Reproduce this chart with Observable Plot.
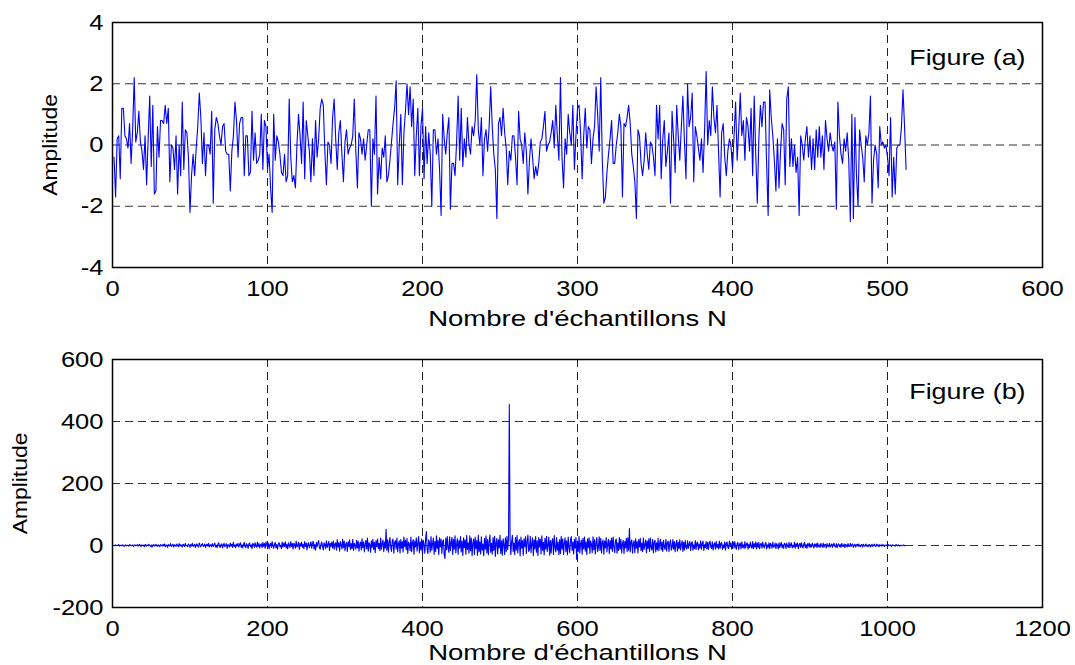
<!DOCTYPE html>
<html>
<head>
<meta charset="utf-8">
<script src="https://cdn.jsdelivr.net/npm/d3@7"></script>
<script src="https://cdn.jsdelivr.net/npm/@observablehq/plot@0.6"></script>
<style>
  html, body { margin: 0; padding: 0; background: #fff; }
  #chart { position: relative; width: 1075px; height: 665px; background: #fff; overflow: hidden; }
  #chart svg { position: absolute; left: 0; }
  #chart text { font-family: "Liberation Sans", Arial, Helvetica, sans-serif; fill: #000; }
</style>
</head>
<body>
<div id="chart"></div>
<script>
// ---- Figure (a): 512 noise samples ----
const signalA = [
  -0.4,-1.7,0.2,0.3,-1.1,1.2,1.2,0.3,0.2,-0.1,0.7,-0.6,0.5,2.2,0.1,0.4,1.1,0.1,-0.2,-0.8,0.3,-1.3,0.2,1.6,-0.7,1.3,-1.6,-1.5,0.6,-0.4,0.8,0.8,
  0.7,1.3,0.7,1.2,-1.2,0.0,-0.1,-0.8,0.3,-1.6,0.0,-1.0,1.4,-0.8,0.5,0.4,-0.4,-2.2,-1.0,-0.3,-1.0,-0.1,0.6,1.7,0.9,-0.6,0.4,-1.0,0.0,0.0,-0.3,1.1,
  -1.9,0.5,0.9,0.7,0.3,0.0,0.6,0.7,-0.2,-0.3,-0.3,-1.5,-0.2,0.3,1.4,0.8,-0.4,0.7,0.9,0.9,-1.0,0.3,0.3,-1.0,-0.9,1.1,-0.5,0.4,-0.6,-0.5,-0.3,1.0,
  -0.8,0.8,0.6,-0.8,-0.3,-1.4,-2.2,1.0,-0.5,0.3,0.1,-0.3,-0.9,-1.0,-0.3,-1.2,-1.0,1.5,-0.4,-1.2,-1.0,-1.4,0.0,1.0,0.3,-0.6,1.4,-1.1,0.8,0.3,-0.2,-1.2,
  0.2,-1.0,0.8,-0.4,0.2,1.2,1.5,1.3,-0.2,-1.3,0.1,0.0,-0.6,0.9,1.5,0.2,-0.8,0.4,0.8,-0.3,-1.2,0.1,0.5,-0.3,-0.1,0.0,0.3,1.5,-0.2,-1.4,0.4,0.2,
  -0.3,0.2,-0.5,0.0,0.5,0.5,-2.0,0.2,-0.3,1.6,-1.6,-0.4,-1.1,-0.1,-0.4,0.3,-1.2,-1.0,-0.5,0.1,0.7,1.2,2.1,-1.3,0.0,1.0,-1.3,0.4,1.1,2.0,1.0,1.9,
  0.6,1.5,-1.0,0.3,1.2,-1.0,0.6,1.2,-1.1,0.6,-0.6,0.4,-0.3,-2.0,0.5,0.5,-0.3,0.2,-0.8,-2.3,1.0,0.2,-0.3,0.4,0.9,-2.1,-0.6,-0.6,-1.0,0.1,1.6,-0.5,
  1.2,-0.7,0.2,-0.4,0.9,0.0,-0.3,0.6,0.3,0.8,2.3,0.5,0.0,0.9,-1.0,0.2,0.5,-0.2,0.6,1.9,0.6,-0.3,-0.8,-2.4,0.7,0.9,0.3,1.2,0.4,-0.1,-1.3,-0.2,
  -0.5,0.3,0.3,-0.4,-1.3,1.1,0.2,0.0,-0.6,0.4,-0.2,-1.6,-0.5,0.2,-0.4,-1.1,-0.7,-1.0,-0.6,0.1,0.2,0.6,1.1,-0.2,0.0,0.1,0.4,0.8,-0.1,1.3,0.3,-0.5,
  2.2,-0.4,-1.4,0.2,-0.3,1.0,0.4,0.0,1.3,-0.8,0.3,1.2,1.3,0.4,-1.1,0.3,1.2,-0.1,0.6,0.5,-0.6,0.2,0.6,1.9,1.0,-0.2,2.2,-0.5,-1.9,-1.7,-0.9,-0.3,
  0.2,0.8,-0.6,-0.6,0.0,0.4,1.0,0.6,-1.7,0.7,0.6,0.9,1.3,0.7,-0.3,-0.7,-1.2,-2.4,0.5,0.3,-0.6,-1.0,-0.5,0.4,-0.3,-0.8,0.1,0.0,-0.4,-1.0,1.3,0.2,
  1.3,-1.1,0.2,0.8,-0.7,-0.2,0.4,-1.9,1.1,0.2,-0.9,1.3,0.3,-0.5,0.6,1.6,0.1,-1.1,2.0,0.6,0.9,1.7,-1.2,0.6,0.3,-0.1,-0.5,0.2,-0.9,0.5,2.4,0.0,
  0.8,0.3,1.9,0.9,0.4,1.3,-0.2,-1.7,0.4,0.7,-0.4,-1.0,-0.2,0.2,0.0,-0.8,0.3,1.4,-0.5,0.5,1.7,0.3,0.8,-0.5,0.9,0.6,-0.2,1.2,-1.0,1.6,-0.3,-1.9,
  0.2,1.3,0.6,1.4,1.4,-0.6,-2.3,1.8,0.9,0.3,-0.5,-1.5,0.2,-1.4,-0.2,0.7,0.5,-1.3,1.5,1.9,-0.7,0.2,-0.7,0.0,-0.9,-0.4,-2.3,0.3,0.0,-0.5,0.2,0.6,
  -0.4,0.3,-0.8,0.2,-0.8,0.5,-0.4,0.6,-0.4,0.3,-0.8,0.8,0.2,-0.2,0.4,0.0,-0.2,0.1,-2.1,1.4,0.3,-0.3,-0.6,0.2,-0.2,0.4,-0.5,-2.5,1.0,-2.4,0.9,-1.0,
  -2.0,0.5,0.0,-0.4,-1.2,0.3,0.0,0.4,1.6,-1.9,-0.5,0.0,-0.3,-1.4,0.6,0.0,0.1,-0.1,0.0,-0.4,-1.0,0.9,-1.7,-0.4,-1.6,-0.1,0.0,0.0,0.6,1.8,0.6,-0.8
];

// ---- Figure (b): 1023 correlation samples ----
const signalB = [
  0,1,-1,2,0,-1,1,3,-2,0,1,-1,2,1,-3,0,2,-1,1,0,-2,3,1,-1,0,2,-3,1,2,-1,0,3,
  -2,1,4,-1,-3,2,0,1,-4,3,2,-2,1,-1,4,0,-3,2,-5,1,3,-2,0,4,-1,-3,2,1,-4,3,0,-2,
  3,-1,5,-4,2,0,-6,3,1,-2,6,-3,0,4,-5,2,1,-3,5,0,-4,6,-2,3,-1,-5,4,2,-3,7,-1,0,
  -4,5,2,-6,3,-1,7,-3,0,4,-7,2,5,-2,-5,8,1,-4,3,6,-3,-1,5,-6,2,4,-2,7,-5,1,3,-4,
  6,-3,2,8,-5,1,-7,4,9,-2,-6,3,5,-8,2,7,-4,0,6,-9,3,1,-5,8,-2,4,-6,10,-3,2,-7,5,
  -1,7,-5,3,9,-6,2,-8,4,10,-3,-7,6,1,-9,5,8,-4,2,-10,7,3,-6,9,-2,-5,11,-4,6,-8,2,5,
  -7,10,-3,6,-9,12,1,-5,8,-11,4,7,-6,13,-2,-9,5,10,-8,3,-12,6,9,-4,1,-10,11,-5,7,-3,12,-8,
  4,-11,9,2,-7,13,-4,6,-12,8,3,-9,14,-5,1,10,-13,7,-2,11,-6,4,-10,13,-3,8,-14,5,9,-7,2,12,
  -9,6,14,-11,3,-15,10,-4,8,16,-7,-12,5,11,-2,-14,9,4,-10,15,-6,2,13,-16,7,-3,11,-8,14,-12,5,9,
  -15,19,-5,9,-18,13,2,-11,20,-7,14,-17,4,10,-19,12,-3,18,-13,6,-10,20,-16,7,1,-12,17,-8,14,-18,5,11,
  -14,22,-7,12,-21,4,17,-11,24,-18,9,3,-22,15,-6,20,-13,10,-23,16,-4,21,-10,7,-17,24,-12,5,18,-20,11,-9,
  52,-15,18,-22,10,26,-6,-19,14,21,-25,8,16,-11,24,-20,5,15,-24,19,-9,13,-21,27,-4,17,-14,23,-26,11,4,-17,
  27,-20,10,19,-28,14,-5,25,-18,8,29,-23,12,-14,22,-27,17,3,-25,21,45,-13,-26,18,9,-22,29,-15,6,24,-28,13,
  -19,31,-10,16,-29,25,-5,21,-26,12,18,-30,-42,24,-14,29,-8,-22,28,-17,10,26,-29,20,-12,31,-24,4,22,-28,16,-9,
  29,-21,14,-32,25,-7,18,-28,33,-13,9,-25,31,-17,24,-33,8,21,-29,27,-10,16,-31,34,-20,12,-27,28,-15,5,-33,23,
  -12,31,-24,19,-30,13,34,-22,7,-28,26,-16,30,-35,11,23,-27,18,-8,33,-26,15,-31,22,5,-29,25,-19,30,-13,20,
  455,
  22,-30,13,33,-20,8,-29,26,-15,32,-24,11,19,-34,27,-9,16,-31,22,-4,29,-26,12,34,-19,-13,30,-23,7,25,-33,18,
  -11,29,-22,15,-32,26,-5,21,-27,31,-16,10,-30,23,-12,30,-19,4,27,-31,16,-25,14,22,-29,32,-8,-21,26,-15,11,-30,
  19,-26,30,-12,22,-29,8,25,-20,15,-30,27,-5,-23,18,29,-16,11,-27,20,-9,26,-45,14,-19,30,-24,7,17,-28,23,-11,
  27,-18,12,-29,22,-7,25,-26,15,4,-23,28,-14,19,-27,10,26,-20,-5,28,-16,23,-24,11,18,-28,14,-8,26,-21,7,20,
  -26,16,-11,24,-19,27,-4,-23,15,21,-25,9,-16,26,-12,20,-24,5,17,-26,13,-8,23,-20,25,-15,55,-21,11,18,-25,8,
  15,-23,22,-9,13,-24,19,-5,23,-17,8,-20,24,-13,4,18,-23,14,-10,22,-19,24,-6,-15,20,-24,11,17,-21,9,-14,23,
  -17,7,20,-14,11,-19,17,-4,-13,20,-18,10,14,-20,6,18,-15,-7,19,-12,13,-20,5,17,-18,11,-10,19,-14,4,15,-19,
  10,-14,16,-6,-11,15,-9,4,13,-16,7,12,-15,2,-10,16,-13,8,11,-14,5,-9,15,-12,6,14,-16,3,-7,13,-11,10,
  -13,8,14,-5,-10,12,-14,3,9,-12,13,-7,4,-11,14,-9,6,10,-13,2,-8,12,-14,7,11,-6,-10,14,-4,9,-12,5,
  11,-9,13,-4,-12,7,10,-13,3,8,-11,12,-6,2,-10,13,-8,5,9,-12,4,-7,11,-3,-9,13,-10,6,-5,12,-11,8,
  -6,10,-11,4,7,-9,11,-3,-8,5,10,-11,2,-6,9,-10,7,3,-9,11,-5,-4,8,-10,6,1,-11,9,-7,4,10,-8,
  3,-9,7,5,-10,8,-2,-6,10,-7,4,9,-8,1,-5,10,-9,6,-3,8,-10,2,7,-6,9,-4,-8,5,10,-7,3,-9,
  6,-2,8,-7,4,-5,7,1,-8,5,-3,6,-7,8,-4,2,-6,7,-1,-5,8,-6,3,4,-8,6,-2,-4,7,-5,1,5,
  -6,4,7,-3,-5,6,-7,2,5,-4,3,-6,7,-2,-3,5,-7,4,1,-5,6,-3,-2,7,-4,3,5,-6,0,4,-5,2,
  4,-3,5,-1,-4,2,3,-5,4,0,-3,5,-2,1,-4,3,2,-5,1,4,-3,0,5,-2,-3,4,-1,2,-4,3,0,-2,
  3,-1,2,-3,1,0,2,-2,3,-1,0,2,-3,1,2,-1,0,-2,3,1,-1,2,0,-2,1,1,-1,0,2,-1,0
];

// ---- Axis ticks and texts ----
const xTicksA = [0, 100, 200, 300, 400, 500, 600];
const yTicksA = [-4, -2, 0, 2, 4];
const xTicksB = [0, 200, 400, 600, 800, 1000, 1200];
const yTicksB = [-200, 0, 200, 400, 600];
const xLabel = "Nombre d'échantillons N";
const yLabel = "Amplitude";
const panelTitles = ["Figure (a)", "Figure (b)"];

const rowsA = signalA.map((v, i) => ({n: i + 1, v}));
const rowsB = signalB.map((v, i) => ({n: i + 1, v}));

const FONT = "Liberation Sans, Arial, Helvetica, sans-serif";

function panel({rows, xTicks, yTicks, title, height, mt, mb, yLabelDx, titleDy, xLabelDy}) {
  return Plot.plot({
    width: 1075,
    height,
    marginTop: mt,
    marginBottom: mb,
    marginLeft: 112,
    marginRight: 33,
    style: {fontFamily: FONT, fontSize: "22px", color: "#000", background: "#fff", overflow: "visible"},
    x: {domain: [xTicks[0], xTicks[xTicks.length - 1]], label: null},
    y: {domain: [yTicks[0], yTicks[yTicks.length - 1]], label: null},
    marks: [
      Plot.gridY(yTicks, {stroke: "#333", strokeOpacity: 1, strokeWidth: 1, strokeDasharray: "8,5"}),
      Plot.gridX(xTicks, {stroke: "#222", strokeOpacity: 1, strokeWidth: 1, strokeDasharray: "8,5"}),
      Plot.line(rows, {x: "n", y: "v", stroke: "#0000ff", strokeWidth: 1.1}),
      Plot.frame({stroke: "#000", strokeWidth: 1.5}),
      Plot.axisX(xTicks, {tickSize: 0, tickPadding: 13, tickFormat: d => String(d), label: null, fontSize: 22}),
      Plot.axisY(yTicks, {tickSize: 0, tickPadding: 9, tickFormat: d => String(d), label: null, fontSize: 22}),
      Plot.text([xLabel], {text: d => d, frameAnchor: "bottom", textAnchor: "middle", dy: xLabelDy, fontSize: 22, fill: "#000"}),
      Plot.text([yLabel], {text: d => d, frameAnchor: "left", textAnchor: "middle", lineAnchor: "middle", dx: yLabelDx, rotate: -90, fontSize: 21, fill: "#000"}),
      Plot.text([title], {text: d => d, frameAnchor: "top-right", textAnchor: "end", dx: -17, dy: titleDy, fontSize: 22, fill: "#000"})
    ]
  });
}

// Horizontal stretch of the glyphs, as in the reference rendering
function stretch(svg) {
  svg.querySelectorAll("text").forEach(t => {
    const s = t.textContent.trim();
    let k = 1.16;
    if (s.startsWith("Nombre")) k = 1.25;
    else if (s === "Amplitude") k = 1.09;
    else if (s.startsWith("Figure")) k = 1.22;
    let tr = t.getAttribute("transform");
    if (!tr) {
      const x = t.getAttribute("x") || 0, y = t.getAttribute("y") || 0;
      t.removeAttribute("x"); t.removeAttribute("y");
      tr = `translate(${x},${y})`;
    }
    t.setAttribute("transform", tr + ` scale(${k},1)`);
  });
}

const chart = document.getElementById("chart");
const svgA = panel({rows: rowsA, xTicks: xTicksA, yTicks: yTicksA, title: panelTitles[0], height: 335, mt: 22, mb: 68, yLabelDx: -62, titleDy: 26.5, xLabelDy: 58});
const svgB = panel({rows: rowsB, xTicks: xTicksB, yTicks: yTicksB, title: panelTitles[1], height: 330, mt: 24, mb: 58, yLabelDx: -92, titleDy: 23.5, xLabelDy: 52});
svgA.style.top = "0px";
svgB.style.top = "335px";
chart.appendChild(svgA);
chart.appendChild(svgB);
stretch(svgA);
stretch(svgB);
</script>
</body>
</html>
